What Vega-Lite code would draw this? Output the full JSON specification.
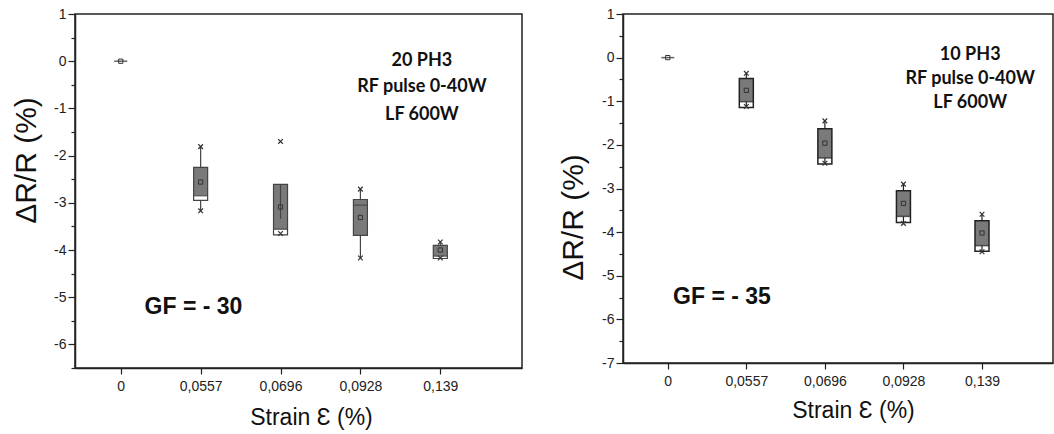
{
  "$schema": "https://vega.github.io/schema/vega-lite/v6.json",
  "background": "white",
  "padding": {"left": 10, "top": 6, "right": 2, "bottom": 0},
  "spacing": 34,
  "config": {
    "font": "Liberation Sans",
    "view": {"stroke": "#222", "strokeWidth": 1.5},
    "axis": {
      "grid": false,
      "domainColor": "#222",
      "domainWidth": 1.5,
      "tickColor": "#222",
      "tickWidth": 1.2,
      "labelFont": "Liberation Sans",
      "labelFontSize": 14,
      "labelColor": "#222",
      "titleFont": "Liberation Sans",
      "titleFontWeight": "normal",
      "titleColor": "#111"
    }
  },
  "datasets": {
    "grayL": [
      {"i": 1, "v": -2.25, "v2": -2.95},
      {"i": 2, "v": -2.61, "v2": -3.68},
      {"i": 3, "v": -2.93, "v2": -3.69},
      {"i": 4, "v": -3.9, "v2": -4.18}
    ],
    "whiteL": [
      {"i": 1, "v": -2.85, "v2": -2.95},
      {"i": 2, "v": -3.56, "v2": -3.68},
      {"i": 4, "v": -4.13, "v2": -4.18}
    ],
    "medL": [
      {"i": 1, "v": -2.85},
      {"i": 2, "v": -3.56},
      {"i": 3, "v": -3.05},
      {"i": 4, "v": -4.13}
    ],
    "segL": [
      {"i": 1, "v": -1.81, "v2": -2.25},
      {"i": 1, "v": -2.95, "v2": -3.17},
      {"i": 2, "v": -2.61, "v2": -3.34},
      {"i": 3, "v": -2.71, "v2": -2.93},
      {"i": 3, "v": -3.69, "v2": -4.17},
      {"i": 4, "v": -3.83, "v2": -3.9}
    ],
    "meanL": [
      {"i": 0, "v": 0},
      {"i": 1, "v": -2.56},
      {"i": 2, "v": -3.09},
      {"i": 3, "v": -3.31},
      {"i": 4, "v": -4.0}
    ],
    "xL": [
      {"i": 1, "v": -1.81},
      {"i": 1, "v": -3.17},
      {"i": 2, "v": -1.7},
      {"i": 2, "v": -3.65},
      {"i": 3, "v": -2.71},
      {"i": 3, "v": -4.17},
      {"i": 4, "v": -3.83},
      {"i": 4, "v": -4.17}
    ],
    "zeroL": [{"i": 0, "v": 0}],
    "condL": [
      {"i": 3.77, "v": 0.0, "t": "20 PH3"},
      {"i": 3.77, "v": -0.55, "t": "RF pulse  0-40W"},
      {"i": 3.77, "v": -1.13, "t": "LF 600W"}
    ],
    "gfL": [{"i": 0.91, "v": -5.21, "t": "GF = - 30"}],
    "grayR": [
      {"i": 1, "v": -0.48, "v2": -1.145},
      {"i": 2, "v": -1.63, "v2": -2.44},
      {"i": 3, "v": -3.05, "v2": -3.78},
      {"i": 4, "v": -3.74, "v2": -4.44}
    ],
    "whiteR": [
      {"i": 1, "v": -1.01, "v2": -1.145},
      {"i": 2, "v": -2.3, "v2": -2.44},
      {"i": 3, "v": -3.64, "v2": -3.78},
      {"i": 4, "v": -4.31, "v2": -4.44}
    ],
    "medR": [
      {"i": 1, "v": -1.01},
      {"i": 2, "v": -2.3},
      {"i": 3, "v": -3.64},
      {"i": 4, "v": -4.31}
    ],
    "segR": [
      {"i": 1, "v": -0.36, "v2": -0.48},
      {"i": 1, "v": -1.01, "v2": -1.145},
      {"i": 2, "v": -1.45, "v2": -1.63},
      {"i": 2, "v": -2.3, "v2": -2.44},
      {"i": 3, "v": -2.9, "v2": -3.05},
      {"i": 3, "v": -3.64, "v2": -3.78},
      {"i": 4, "v": -3.59, "v2": -3.74},
      {"i": 4, "v": -4.31, "v2": -4.44}
    ],
    "meanR": [
      {"i": 0, "v": 0},
      {"i": 1, "v": -0.75},
      {"i": 2, "v": -1.96},
      {"i": 3, "v": -3.34},
      {"i": 4, "v": -4.02}
    ],
    "xR": [
      {"i": 1, "v": -0.36},
      {"i": 1, "v": -1.12},
      {"i": 2, "v": -1.45},
      {"i": 2, "v": -2.42},
      {"i": 3, "v": -2.9},
      {"i": 3, "v": -3.8},
      {"i": 4, "v": -3.59},
      {"i": 4, "v": -4.45}
    ],
    "zeroR": [{"i": 0, "v": 0}],
    "condR": [
      {"i": 3.85, "v": 0.05, "t": "10 PH3"},
      {"i": 3.85, "v": -0.5, "t": "RF pulse  0-40W"},
      {"i": 3.85, "v": -1.05, "t": "LF 600W"}
    ],
    "gfR": [{"i": 0.69, "v": -5.49, "t": "GF = - 35"}]
  },
  "hconcat": [
    {
      "width": 447,
      "height": 354,
      "encoding": {
        "x": {
          "field": "i",
          "type": "quantitative",
          "scale": {"domain": [-0.51, 4.96], "nice": false, "zero": false},
          "axis": {
            "title": "Strain Ɛ (%)",
            "titleFontSize": 23,
            "titleX": 236,
            "titleY": 49,
            "titleAlign": "center",
            "titleBaseline": "middle",
            "values": [0, 1, 2, 3, 4],
            "labelExpr": "['0','0,0557','0,0696','0,0928','0,139'][datum.value]",
            "tickSize": 6,
            "labelPadding": 5
          }
        },
        "y": {
          "field": "v",
          "type": "quantitative",
          "scale": {"domain": [-6.5, 1], "nice": false, "zero": false},
          "axis": {
            "title": "ΔR/R (%)",
            "titleFontSize": 30,
            "titleX": -49,
            "titleY": 146,
            "titleAlign": "center",
            "titleBaseline": "middle",
            "titleAngle": -90,
            "values": [1, 0.5, 0, -0.5, -1, -1.5, -2, -2.5, -3, -3.5, -4, -4.5, -5, -5.5, -6, -6.5],
            "labelExpr": "datum.value % 1 === 0 ? '' + datum.value : ''",
            "tickSize": {"condition": {"test": "datum.value % 1 === 0", "value": 7}, "value": 4},
            "labelPadding": 2
          }
        }
      },
      "layer": [
        {"data": {"name": "grayL"}, "mark": {"type": "bar", "width": 14, "fill": "#7a7a7a"}, "encoding": {"y2": {"field": "v2"}}},
        {"data": {"name": "whiteL"}, "mark": {"type": "bar", "width": 14, "fill": "#ffffff"}, "encoding": {"y2": {"field": "v2"}}},
        {"data": {"name": "grayL"}, "mark": {"type": "bar", "width": 14, "fill": null, "fillOpacity": 0, "stroke": "#444", "strokeWidth": 1.2}, "encoding": {"y2": {"field": "v2"}}},
        {"data": {"name": "segL"}, "mark": {"type": "rule", "color": "#444", "strokeWidth": 1.2}, "encoding": {"y2": {"field": "v2"}}},
        {"data": {"name": "medL"}, "mark": {"type": "tick", "orient": "horizontal", "size": 14, "thickness": 1.5, "color": "#444"}},
        {"data": {"name": "zeroL"}, "mark": {"type": "tick", "orient": "horizontal", "size": 13, "thickness": 1.5, "color": "#222"}},
        {"data": {"name": "meanL"}, "mark": {"type": "point", "shape": "square", "filled": false, "size": 18, "stroke": "#333", "strokeWidth": 1, "opacity": 1}},
        {"data": {"name": "xL"}, "mark": {"type": "point", "shape": "M-1,-1L1,1M-1,1L1,-1", "filled": false, "size": 22, "stroke": "#333", "strokeWidth": 1.2, "opacity": 1}},
        {"data": {"name": "condL"}, "mark": {"type": "text", "font": "Lato", "fontWeight": "bold", "fontSize": 18, "align": "center", "baseline": "middle", "color": "#111"}, "encoding": {"text": {"field": "t"}}},
        {"data": {"name": "gfL"}, "mark": {"type": "text", "font": "Liberation Sans", "fontWeight": "bold", "fontSize": 23, "align": "center", "baseline": "middle", "color": "#111"}, "encoding": {"text": {"field": "t"}}}
      ]
    },
    {
      "width": 430,
      "height": 349,
      "encoding": {
        "x": {
          "field": "i",
          "type": "quantitative",
          "scale": {"domain": [-0.506, 4.84], "nice": false, "zero": false},
          "axis": {
            "title": "Strain Ɛ (%)",
            "titleFontSize": 23,
            "titleX": 230,
            "titleY": 47,
            "titleAlign": "center",
            "titleBaseline": "middle",
            "values": [0, 1, 2, 3, 4],
            "labelExpr": "['0','0,0557','0,0696','0,0928','0,139'][datum.value]",
            "tickSize": 6,
            "labelPadding": 5
          }
        },
        "y": {
          "field": "v",
          "type": "quantitative",
          "scale": {"domain": [-7, 1], "nice": false, "zero": false},
          "axis": {
            "title": "ΔR/R (%)",
            "titleFontSize": 30,
            "titleX": -50,
            "titleY": 203,
            "titleAlign": "center",
            "titleBaseline": "middle",
            "titleAngle": -90,
            "values": [1, 0.5, 0, -0.5, -1, -1.5, -2, -2.5, -3, -3.5, -4, -4.5, -5, -5.5, -6, -6.5, -7],
            "labelExpr": "datum.value % 1 === 0 ? '' + datum.value : ''",
            "tickSize": {"condition": {"test": "datum.value % 1 === 0", "value": 7}, "value": 4},
            "labelPadding": 2
          }
        }
      },
      "layer": [
        {"data": {"name": "grayR"}, "mark": {"type": "bar", "width": 14, "fill": "#7a7a7a"}, "encoding": {"y2": {"field": "v2"}}},
        {"data": {"name": "whiteR"}, "mark": {"type": "bar", "width": 14, "fill": "#ffffff"}, "encoding": {"y2": {"field": "v2"}}},
        {"data": {"name": "grayR"}, "mark": {"type": "bar", "width": 14, "fill": null, "fillOpacity": 0, "stroke": "#222", "strokeWidth": 1.5}, "encoding": {"y2": {"field": "v2"}}},
        {"data": {"name": "segR"}, "mark": {"type": "rule", "color": "#222", "strokeWidth": 1.2}, "encoding": {"y2": {"field": "v2"}}},
        {"data": {"name": "medR"}, "mark": {"type": "tick", "orient": "horizontal", "size": 14, "thickness": 1.5, "color": "#222"}},
        {"data": {"name": "zeroR"}, "mark": {"type": "tick", "orient": "horizontal", "size": 13, "thickness": 1.5, "color": "#222"}},
        {"data": {"name": "meanR"}, "mark": {"type": "point", "shape": "square", "filled": false, "size": 18, "stroke": "#333", "strokeWidth": 1, "opacity": 1}},
        {"data": {"name": "xR"}, "mark": {"type": "point", "shape": "M-1,-1L1,1M-1,1L1,-1", "filled": false, "size": 22, "stroke": "#333", "strokeWidth": 1.2, "opacity": 1}},
        {"data": {"name": "condR"}, "mark": {"type": "text", "font": "Lato", "fontWeight": "bold", "fontSize": 18, "align": "center", "baseline": "middle", "color": "#111"}, "encoding": {"text": {"field": "t"}}},
        {"data": {"name": "gfR"}, "mark": {"type": "text", "font": "Liberation Sans", "fontWeight": "bold", "fontSize": 23, "align": "center", "baseline": "middle", "color": "#111"}, "encoding": {"text": {"field": "t"}}}
      ]
    }
  ]
}
